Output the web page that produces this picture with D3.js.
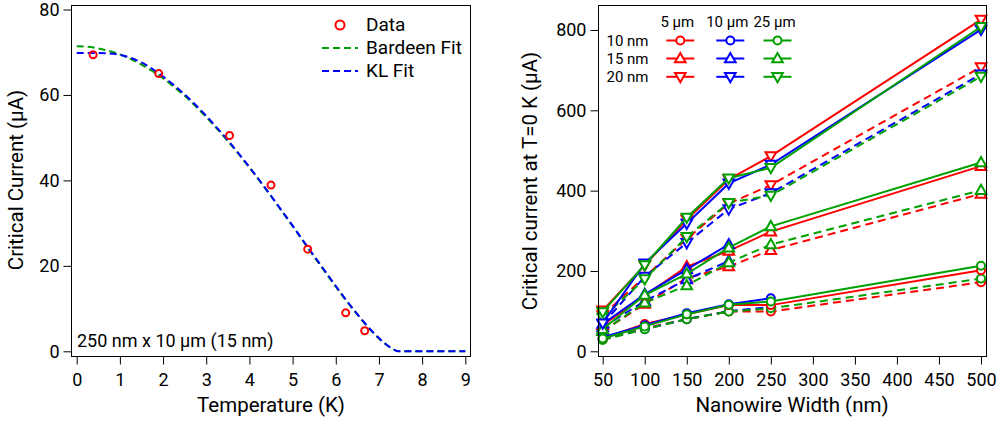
<!DOCTYPE html>
<html>
<head>
<meta charset="utf-8">
<script src="https://cdn.jsdelivr.net/npm/d3@7"></script>
<style>
  html, body { margin: 0; padding: 0; background: #fff; }
  svg { display: block; font-family: Roboto, "Noto Sans", sans-serif; }
  .tick text { fill: #000; }
</style>
</head>
<body>
<svg id="chart" width="1007" height="424"></svg>
<script>
// ---------- Left panel data ----------
const tempData = [0.38, 1.90, 3.54, 4.50, 5.35, 6.23, 6.67];
const icData = [69.4, 65.0, 50.5, 38.9, 23.9, 9.0, 4.8];
const fitT = [0,0.25,0.5,0.75,1,1.25,1.5,1.75,2,2.25,2.5,2.75,3,3.25,3.5,3.75,4,4.25,4.5,4.75,5,5.25,5.5,5.75,6,6.25,6.5,6.75,7,7.25,7.47,8,8.5,9];
const bardeenFit = [71.4,71.3,70.9,70.3,69.5,68.4,67.1,65.6,63.9,61.9,59.8,57.4,54.8,52.1,49.2,46.2,43.0,39.7,36.3,32.8,29.3,25.7,22.1,18.6,15.1,11.7,8.6,5.6,3.0,1.0,0,0,0,0];
const klFit = [69.8,69.8,69.8,69.7,69.4,68.7,67.6,66.1,64.3,62.3,60.1,57.7,55.1,52.3,49.4,46.3,43.1,39.8,36.4,32.9,29.4,25.8,22.3,18.8,15.3,11.9,8.7,5.7,3.1,1.0,0,0,0,0];
const leftXTicks = [0,1,2,3,4,5,6,7,8,9];
const leftYTicks = [0,20,40,60,80];
const leftLegend = ["Data", "Bardeen Fit", "KL Fit"];
const leftNote = "250 nm x 10 µm (15 nm)";

// ---------- Right panel data ----------
const widthsNm = [50,100,150,200,250,500];
const rightXTicks = [50,100,150,200,250,300,350,400,450,500];
const rightYTicks = [0,200,400,600,800];
const thicknessLabels = ["10 nm","15 nm","20 nm"];
const lengthLabels = ["5 µm","10 µm","25 µm"];
// 10 nm (circles)
const c5Solid  = [32,68,92,115,115,202];
const c10Solid = [35,65,95,117,132];
const c25Solid = [32,62,92,116,124,213];
const c5Dash   = [30,57,80,99,99,172];
const c10Dash  = [30,55,80,100,110];
const c25Dash  = [28,55,80,99,107,181];
// 15 nm (up triangles)
const u5Solid  = [65,139,211,250,298,461];
const u10Solid = [68,142,204,266];
const u25Solid = [55,140,193,258,311,470];
const u5Dash   = [50,118,182,211,252,392];
const u10Dash  = [60,125,179,225];
const u25Dash  = [50,121,164,221,266,401];
// 20 nm (down triangles)
const d5Solid  = [102,214,328,428,486,826];
const d10Solid = [70,219,318,418,465,801];
const d25Solid = [98,215,333,431,457,808];
const d5Dash   = [90,185,280,368,414,708];
const d10Dash  = [68,186,270,354,394,690];
const d25Dash  = [84,180,285,370,388,684];

// ---------- Styling ----------
const RED = "#ff0000", BLUE = "#0000ff", GREEN = "#00a000";
const colors = [RED, BLUE, GREEN];
const FONT_TICK = 18, FONT_TITLE = 20.5;

const svg = d3.select("#chart");

function drawFrame(x0, y0, x1, y1) {
  svg.append("rect").attr("x", x0 + 0.5).attr("y", y0 + 0.5)
    .attr("width", x1 - x0).attr("height", y1 - y0)
    .attr("fill", "none").attr("stroke", "#000").attr("stroke-width", 1);
}
function axes(x, y, fx0, fy1, xMajor, xMinor, yMajor, yMinor) {
  const gx = svg.append("g").attr("transform", `translate(0,${fy1 + 0.5})`);
  gx.call(d3.axisBottom(x).tickValues(xMinor).tickSize(4).tickFormat(""));
  gx.call(d3.axisBottom(x).tickValues(xMajor).tickSize(8).tickPadding(9).tickFormat(d3.format("d")));
  const gy = svg.append("g").attr("transform", `translate(${fx0 + 0.5},0)`);
  gy.call(d3.axisLeft(y).tickValues(yMinor).tickSize(4).tickFormat(""));
  gy.call(d3.axisLeft(y).tickValues(yMajor).tickSize(8).tickPadding(4).tickFormat(d3.format("d")));
  [gx, gy].forEach(g => {
    g.selectAll(".domain").remove();
    g.selectAll("line").attr("stroke", "#000");
    g.selectAll("text").attr("font-size", FONT_TICK).attr("font-family", "Roboto");
  });
}

// ================= LEFT PANEL =================
{
  const fx0 = 71, fx1 = 470, fy0 = 5, fy1 = 356;
  const x = d3.scaleLinear().domain([0, 9]).range([76.7, 465.3]);
  const y = d3.scaleLinear().domain([0, 80]).range([351.3, 9.5]);
  const xMinor = d3.range(0, 9.0001, 0.2).map(v => +v.toFixed(2));
  const yMinor = d3.range(0, 80.0001, 5);
  axes(x, y, fx0, fy1, leftXTicks, xMinor, leftYTicks, yMinor);

  const line = d3.line().x(d => x(d[0])).y(d => y(d[1])).curve(d3.curveMonotoneX);
  svg.append("path").datum(fitT.map((t, i) => [t, bardeenFit[i]]))
    .attr("d", line).attr("fill", "none").attr("stroke", GREEN)
    .attr("stroke-width", 2).attr("stroke-dasharray", "7,4");
  svg.append("path").datum(fitT.map((t, i) => [t, klFit[i]]))
    .attr("d", line).attr("fill", "none").attr("stroke", BLUE)
    .attr("stroke-width", 2).attr("stroke-dasharray", "7,4");
  svg.append("g").selectAll("circle").data(tempData.map((t, i) => [t, icData[i]]))
    .join("circle").attr("cx", d => x(d[0])).attr("cy", d => y(d[1])).attr("r", 3.5)
    .attr("fill", "none").attr("stroke", RED).attr("stroke-width", 2);

  drawFrame(fx0, fy0, fx1, fy1);

  // legend
  const lg = svg.append("g").attr("font-size", 19).attr("fill", "#000");
  lg.append("circle").attr("cx", 340).attr("cy", 25).attr("r", 4.5)
    .attr("fill", "none").attr("stroke", RED).attr("stroke-width", 2);
  lg.append("line").attr("x1", 322).attr("x2", 358).attr("y1", 48).attr("y2", 48)
    .attr("stroke", GREEN).attr("stroke-width", 2).attr("stroke-dasharray", "7,4");
  lg.append("line").attr("x1", 322).attr("x2", 358).attr("y1", 71).attr("y2", 71)
    .attr("stroke", BLUE).attr("stroke-width", 2).attr("stroke-dasharray", "7,4");
  [31, 54, 77].forEach((yy, i) => lg.append("text").attr("x", 366).attr("y", yy).text(leftLegend[i]));

  svg.append("text").attr("x", 77).attr("y", 346.5).attr("font-size", 18).text(leftNote);

  svg.append("text").attr("x", 271).attr("y", 411.5).attr("text-anchor", "middle")
    .attr("font-size", FONT_TITLE).text("Temperature (K)");
  svg.append("text").attr("transform", "translate(22.5,180) rotate(-90)").attr("text-anchor", "middle")
    .attr("font-size", FONT_TITLE).text("Critical Current (µA)");
}

// ================= RIGHT PANEL =================
{
  const fx0 = 597.7, fx1 = 986, fy0 = 5, fy1 = 356;
  const x = d3.scaleLinear().domain([50, 500]).range([602.7, 981]);
  const y = d3.scaleLinear().domain([0, 800]).range([351.3, 30]);
  const xMinor = d3.range(50, 500.001, 10);
  const yMinor = d3.range(0, 850.001, 50);
  axes(x, y, Math.round(fx0), fy1, rightXTicks, xMinor, rightYTicks, yMinor);

  const symbols = {
    circle: g => g.append("circle").attr("r", 4),
    up: g => g.append("path").attr("d", "M0,-5.5L5.3,3.8L-5.3,3.8Z"),
    down: g => g.append("path").attr("d", "M0,5.5L5.3,-3.8L-5.3,-3.8Z")
  };

  const groups = [
    { sym: "circle", solid: [c5Solid, c10Solid, c25Solid], dash: [c5Dash, c10Dash, c25Dash] },
    { sym: "up",     solid: [u5Solid, u10Solid, u25Solid], dash: [u5Dash, u10Dash, u25Dash] },
    { sym: "down",   solid: [d5Solid, d10Solid, d25Solid], dash: [d5Dash, d10Dash, d25Dash] }
  ];
  const line = d3.line().x(d => x(d[0])).y(d => y(d[1]));
  const layer = svg.append("g");
  function drawSeries(vals, color, dashed, sym) {
    const pts = vals.map((v, i) => [widthsNm[i], v]);
    const g = layer.append("g");
    g.append("path").datum(pts).attr("d", line).attr("fill", "none")
      .attr("stroke", color).attr("stroke-width", 2)
      .attr("stroke-dasharray", dashed ? "8,5" : null);
    pts.forEach(p => {
      const m = g.append("g").attr("transform", `translate(${x(p[0])},${y(p[1])})`);
      symbols[sym](m).attr("fill", "#fff").attr("stroke", color).attr("stroke-width", 2);
    });
  }
  groups.forEach(gr => {
    [0, 1, 2].forEach(c => drawSeries(gr.dash[c], colors[c], true, gr.sym));
  });
  groups.forEach(gr => {
    [0, 1, 2].forEach(c => drawSeries(gr.solid[c], colors[c], false, gr.sym));
  });

  drawFrame(Math.round(fx0), fy0, fx1, fy1);

  // legend
  const lg = svg.append("g").attr("font-size", 15).attr("fill", "#000");
  const colX = [680.3, 730.3, 777.5];
  const rowY = [40.5, 58.5, 76.8];
  const syms = ["circle", "up", "down"];
  lengthLabels.forEach((t, i) => lg.append("text").attr("x", colX[i] - 3).attr("y", 26.5)
    .attr("text-anchor", "middle").text(t));
  thicknessLabels.forEach((t, r) => {
    lg.append("text").attr("x", 606.5).attr("y", rowY[r] + 5.3).text(t);
    colX.forEach((cx, c) => {
      lg.append("line").attr("x1", cx - 14).attr("x2", cx + 14).attr("y1", rowY[r]).attr("y2", rowY[r])
        .attr("stroke", colors[c]).attr("stroke-width", 2);
      const m = lg.append("g").attr("transform", `translate(${cx},${rowY[r]})`);
      symbols[syms[r]](m).attr("fill", "#fff").attr("stroke", colors[c]).attr("stroke-width", 2);
    });
  });

  svg.append("text").attr("x", 792).attr("y", 411.5).attr("text-anchor", "middle")
    .attr("font-size", FONT_TITLE).text("Nanowire Width (nm)");
  svg.append("text").attr("transform", "translate(537,181) rotate(-90)").attr("text-anchor", "middle")
    .attr("font-size", FONT_TITLE).text("Critical current at T=0 K (µA)");
}
</script>
</body>
</html>
